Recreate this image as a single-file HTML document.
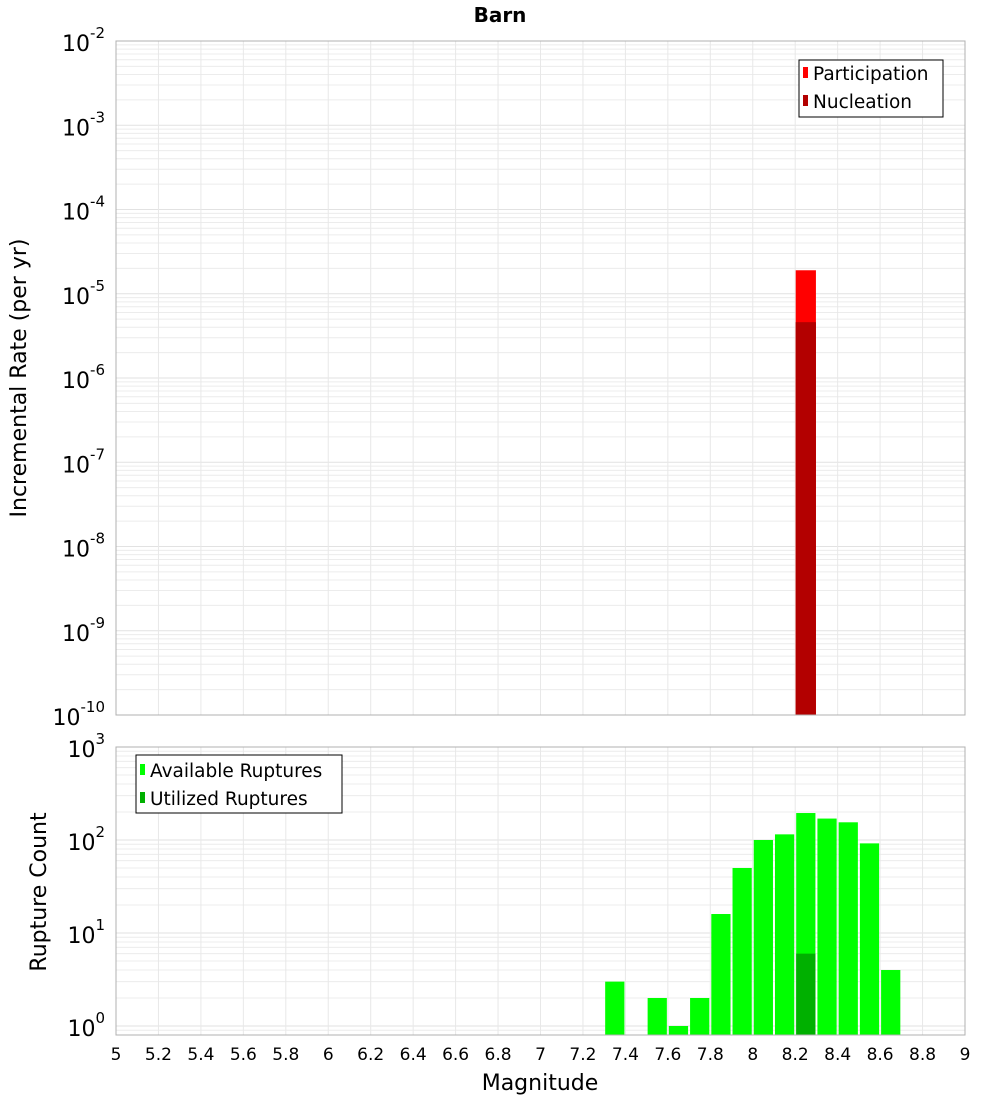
<!DOCTYPE html>
<html><head><meta charset="utf-8"><style>
body{margin:0;background:#fff;}
svg text{font-family:"DejaVu Sans","Liberation Sans",sans-serif;fill:#000;}
</style></head><body>
<svg id="chart" width="1000" height="1100" xmlns="http://www.w3.org/2000/svg">
<text x="500" y="22" text-anchor="middle" font-size="20" font-weight="bold">Barn</text>
<g id="gtop"></g><g id="gbot"></g><g id="xaxis"></g>
<text x="540" y="1090" text-anchor="middle" font-size="22">Magnitude</text>
<text transform="translate(26,378) rotate(-90)" text-anchor="middle" font-size="22">Incremental Rate (per yr)</text>
<text transform="translate(46,892) rotate(-90)" text-anchor="middle" font-size="22">Rupture Count</text>
<g>
<rect x="799" y="60" width="144" height="57" fill="#fff" stroke="#000"/>
<rect x="803" y="67" width="5" height="11" fill="#ff0000"/>
<text x="813" y="80" font-size="18.5">Participation</text>
<rect x="803" y="95" width="5" height="11" fill="#b30000"/>
<text x="813" y="108" font-size="18.5">Nucleation</text>
</g>
<g>
<rect x="136" y="755" width="206" height="58" fill="#fff" stroke="#000"/>
<rect x="140" y="764" width="5" height="11" fill="#00ff00"/>
<text x="150" y="777" font-size="18.5">Available Ruptures</text>
<rect x="140" y="792" width="5" height="11" fill="#00b000"/>
<text x="150" y="805" font-size="18.5">Utilized Ruptures</text>
</g>
</svg>
<script>
const topMags=[8.25];
const participation=[1.9e-5];
const nucleation=[4.6e-6];
const botMags=[7.35,7.55,7.65,7.75,7.85,7.95,8.05,8.15,8.25,8.35,8.45,8.55,8.65];
const available=[3,2,1,2,16,50,100,115,195,170,155,92,4];
const utilizedMags=[8.25];
const utilized=[6];
const xTicks=[5,5.2,5.4,5.6,5.8,6,6.2,6.4,6.6,6.8,7,7.2,7.4,7.6,7.8,8,8.2,8.4,8.6,8.8,9];
const topExps=[-2,-3,-4,-5,-6,-7,-8,-9,-10];
const botExps=[0,1,2,3];

const NS="http://www.w3.org/2000/svg";
const X0=116,X1=965;
const xs=m=>X0+(m-5)/4*(X1-X0);
const T0=41,T1=715;
const yTop=v=>T0+(-2-Math.log10(v))*(T1-T0)/8;
const B0=747,B1=1035,BD=93,B1e0=1026;
const yBot=v=>B1e0-Math.log10(v)*BD;
function mk(p,tag,a){const e=document.createElementNS(NS,tag);for(const k in a)e.setAttribute(k,a[k]);p.appendChild(e);return e;}
const gTop=document.getElementById('gtop'),gBot=document.getElementById('gbot'),xa=document.getElementById('xaxis');

function grid(g,y0,y1,yf,emin,emax){
  for(let e=emin;e<emax;e++)for(let k=1;k<10;k++){const yy=yf(k*Math.pow(10,e));if(yy<y0-0.5||yy>y1+0.5)continue;
    const l=mk(g,'line',{x1:X0,x2:X1,y1:yy,y2:yy,stroke:k==1?'#e2e2e2':'#ececec','stroke-width':1});
    
    }
  xTicks.forEach(t=>{const l=mk(g,'line',{x1:xs(t),x2:xs(t),y1:y0,y2:y1,stroke:'#e8e8e8','stroke-width':1});
    
    });
}
grid(gTop,T0,T1,yTop,-10,-2);
grid(gBot,B0,B1,yBot,-1,3);
const bw=(X1-X0)/40;
topMags.forEach((m,i)=>{
  const r=mk(gTop,'rect',{x:xs(m)-bw/2+0.5,width:bw-1,y:yTop(participation[i]),height:T1-yTop(participation[i]),fill:'#ff0000'});
  
  
  const r2=mk(gTop,'rect',{x:xs(m)-bw/2+0.5,width:bw-1,y:yTop(nucleation[i]),height:T1-yTop(nucleation[i]),fill:'#b30000'});
  
  
});
botMags.forEach((m,i)=>{
  const yy=yBot(available[i]);
  const r=mk(gBot,'rect',{x:xs(m)-bw/2+1,width:bw-2,y:yy,height:B1-yy,fill:'#00ff00'});
  
  
});
utilizedMags.forEach((m,i)=>{
  const yy=yBot(utilized[i]);
  const r=mk(gBot,'rect',{x:xs(m)-bw/2+1,width:bw-2,y:yy,height:B1-yy,fill:'#00b000'});
  
  
});
const f1=mk(gTop,'rect',{x:X0,y:T0,width:X1-X0,height:T1-T0,fill:'none',stroke:'#b0b0b0'});


const f2=mk(gBot,'rect',{x:X0,y:B0,width:X1-X0,height:B1-B0,fill:'none',stroke:'#b0b0b0'});


function ylab(g,yy,e){
  const t=mk(g,'text',{x:105,y:yy+10,'text-anchor':'end','font-size':22});
  
  
  t.textContent='10';
  const s=mk(t,'tspan',{dy:-13,'font-size':15});s.textContent=String(e);
}
topExps.forEach(e=>ylab(gTop,yTop(Math.pow(10,e)),e));
botExps.forEach(e=>ylab(gBot,yBot(Math.pow(10,e)),e));
xTicks.forEach(t=>{
  const l=mk(xa,'text',{x:xs(t),y:1060,'text-anchor':'middle','font-size':17});
  
  
  l.textContent=String(t);
});
</script>
</body></html>
